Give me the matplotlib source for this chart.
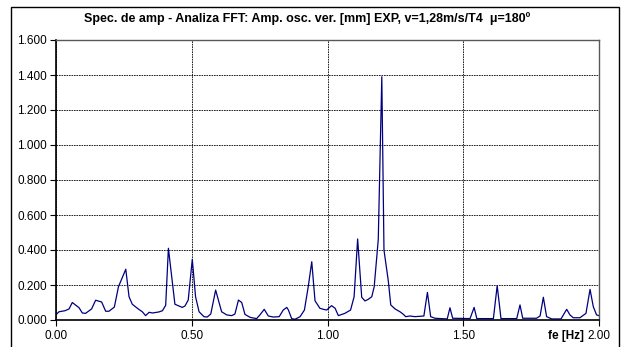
import matplotlib
matplotlib.use("Agg")
import matplotlib.pyplot as plt
from matplotlib.patches import Rectangle

plt.rcParams["font.family"] = ["Liberation Sans", "DejaVu Sans"]

# amplitude spectrum (FFT), frequency in Hz, amplitude in mm
freq = [0.000, 0.011, 0.033, 0.048, 0.060, 0.085, 0.097, 0.109, 0.131, 0.146,
        0.168, 0.183, 0.195, 0.215, 0.230, 0.257, 0.269, 0.281, 0.303, 0.318,
        0.330, 0.343, 0.355, 0.379, 0.392, 0.404, 0.414, 0.438, 0.453, 0.465,
        0.475, 0.487, 0.502, 0.514, 0.527, 0.545, 0.557, 0.570, 0.588, 0.610,
        0.629, 0.647, 0.659, 0.672, 0.684, 0.696, 0.715, 0.739, 0.751, 0.767,
        0.782, 0.800, 0.822, 0.837, 0.850, 0.856, 0.868, 0.880, 0.899, 0.915,
        0.929, 0.942, 0.954, 0.972, 0.985, 0.997, 1.015, 1.028, 1.040, 1.064,
        1.085, 1.098, 1.111, 1.126, 1.138, 1.150, 1.163, 1.172, 1.187, 1.200,
        1.208, 1.224, 1.233, 1.249, 1.267, 1.279, 1.288, 1.304, 1.322, 1.355,
        1.368, 1.380, 1.396, 1.441, 1.451, 1.461, 1.525, 1.540, 1.550, 1.611,
        1.625, 1.639, 1.697, 1.709, 1.719, 1.770, 1.783, 1.795, 1.807, 1.826,
        1.860, 1.881, 1.893, 1.905, 1.930, 1.952, 1.967, 1.979, 1.991, 2.000]
amp = [0.030, 0.047, 0.053, 0.063, 0.100, 0.070, 0.040, 0.038, 0.063, 0.113,
       0.103, 0.050, 0.050, 0.074, 0.190, 0.290, 0.133, 0.090, 0.063, 0.047,
       0.025, 0.044, 0.040, 0.046, 0.053, 0.084, 0.410, 0.090, 0.080, 0.072,
       0.080, 0.114, 0.347, 0.133, 0.047, 0.019, 0.017, 0.034, 0.171, 0.047,
       0.029, 0.025, 0.034, 0.114, 0.100, 0.032, 0.015, 0.008, 0.029, 0.061,
       0.023, 0.017, 0.019, 0.057, 0.072, 0.057, 0.008, 0.004, 0.019, 0.057,
       0.190, 0.333, 0.110, 0.067, 0.061, 0.057, 0.082, 0.067, 0.025, 0.038,
       0.057, 0.133, 0.463, 0.130, 0.109, 0.118, 0.133, 0.190, 0.460, 1.390,
       0.400, 0.223, 0.086, 0.063, 0.047, 0.033, 0.019, 0.023, 0.019, 0.023,
       0.158, 0.019, 0.010, 0.006, 0.070, 0.010, 0.008, 0.072, 0.008, 0.008,
       0.196, 0.008, 0.008, 0.086, 0.010, 0.010, 0.023, 0.130, 0.019, 0.006,
       0.006, 0.061, 0.029, 0.013, 0.013, 0.038, 0.175, 0.076, 0.029, 0.025]

x_ticks = [0.0, 0.5, 1.0, 1.5, 2.0]
y_ticks = [0.0, 0.2, 0.4, 0.6, 0.8, 1.0, 1.2, 1.4, 1.6]

fig = plt.figure(figsize=(6.21, 3.47), dpi=100)
ax = fig.add_axes([56 / 621, 27 / 347, 543 / 621, 280 / 347])

ax.plot(freq, amp, color="#000080", lw=0.9)

ax.set_xlim(0, 2.0)
ax.set_ylim(0, 1.6)
ax.set_xticks(x_ticks)
ax.set_yticks(y_ticks)
ax.set_xticklabels([f"{v:.2f}" for v in x_ticks])
ax.set_yticklabels([f"{v:.3f}" for v in y_ticks])
ax.tick_params(labelsize=8.5, length=4, width=0.8, direction="out", pad=2.5)
ax.tick_params(axis="x", pad=3)
ax.grid(True, color="black", linestyle=(0, (2, 1)), linewidth=0.6)

for side in ["left", "bottom"]:
    ax.spines[side].set_linewidth(1.2)
for side in ["top", "right"]:
    ax.spines[side].set_linestyle((0, (2, 1)))
    ax.spines[side].set_color("0.35")
    ax.spines[side].set_linewidth(1.0)

fig.text(307 / 621, 1 - 19 / 347,
         "Spec. de amp - Analiza FFT: Amp. osc. ver. [mm] EXP, v=1,28m/s/T4  μ=180º",
         ha="center", va="center", fontsize=9, fontweight="bold")
fig.text(584 / 621, 1 - 336 / 347, "fe [Hz]", ha="right", va="center",
         fontsize=8.5, fontweight="bold", zorder=5)

# outer frame around the whole chart
fig.patches.append(Rectangle((11 / 621, -0.05), 608 / 621, 1.05 - 7 / 347,
                             transform=fig.transFigure, fill=False,
                             edgecolor="black", linewidth=1.0))

fig.savefig("out.png", dpi=100)
